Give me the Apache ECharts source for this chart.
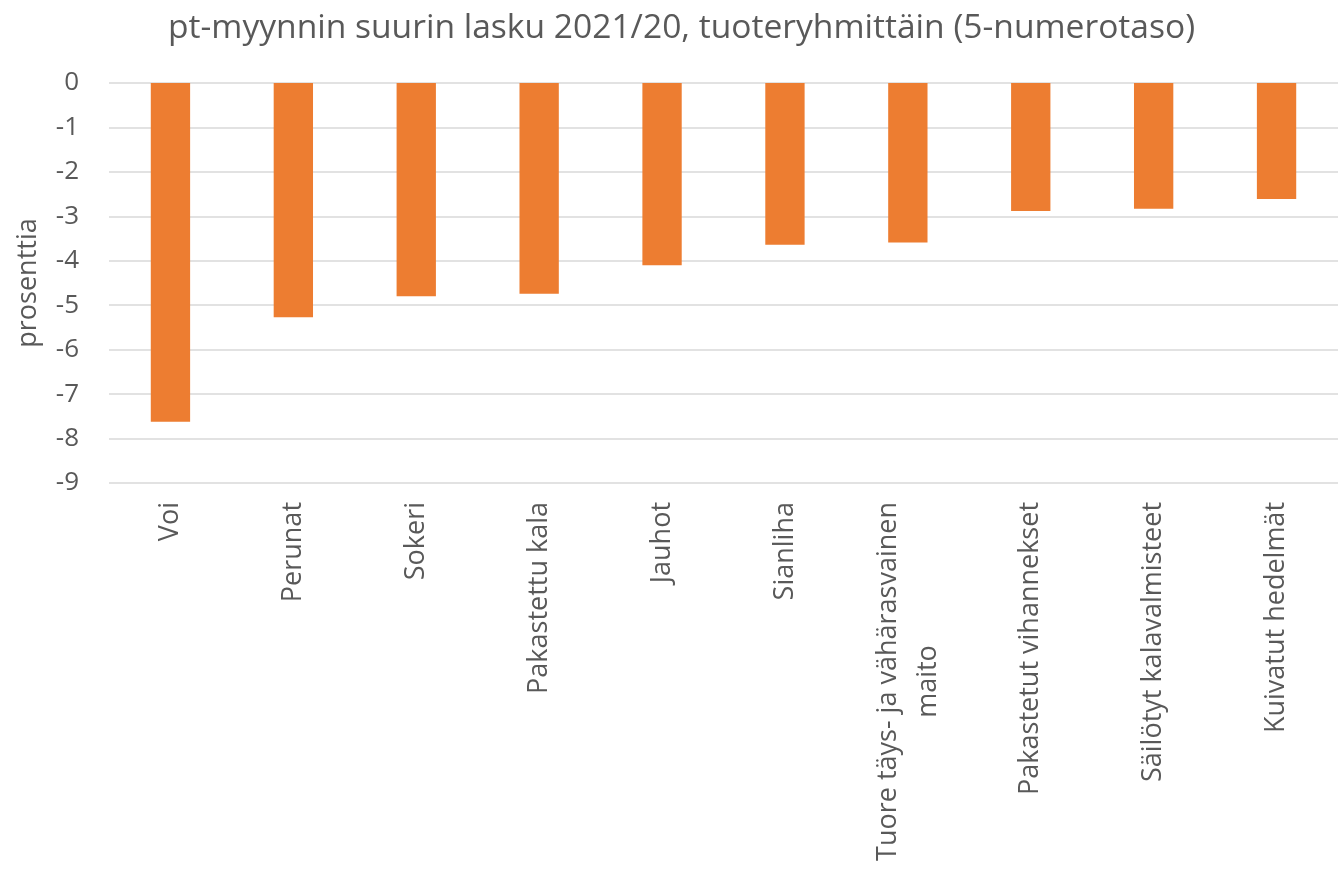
<!DOCTYPE html>
<html><head><meta charset="utf-8">
<script src="https://cdn.jsdelivr.net/npm/echarts@6/dist/echarts.min.js"></script>
<style>html,body{margin:0;padding:0;background:#fff}#c{width:1338px;height:876px}</style>
</head><body><div id="c"></div>
<script>
const categories = ["Voi","Perunat","Sokeri","Pakastettu kala","Jauhot","Sianliha","Tuore täys- ja vähärasvainen\nmaito","Pakastetut vihannekset","Säilötyt kalavalmisteet","Kuivatut hedelmät"];
const values = [-7.62,-5.27,-4.80,-4.74,-4.10,-3.64,-3.59,-2.88,-2.83,-2.61];
const titleText = "pt-myynnin suurin lasku 2021/20, tuoteryhmittäin (5-numerotaso)";
const yName = "prosenttia";
const font = "Open Sans";
const labelSize = 27;
const ctx = document.createElement('canvas').getContext('2d');
ctx.font = labelSize + 'px "' + font + '"';
function fmt(v){
  const lines = v.split('\n');
  if (lines.length === 1) return '{c|' + v + '}';
  const w = Math.round(Math.max(...lines.map(s => ctx.measureText(s).width)));
  return lines.map(s => '{w' + w + '|' + s + '}').join('\n');
}
const rich = {c:{fontFamily:font,fontSize:labelSize,color:'#595959',lineHeight:40}};
categories.forEach(v => {
  const lines = v.split('\n');
  if (lines.length > 1) {
    const w = Math.round(Math.max(...lines.map(s => ctx.measureText(s).width)));
    rich['w' + w] = {fontFamily:font,fontSize:labelSize,color:'#595959',lineHeight:40,width:w,align:'center'};
  }
});
const chart = echarts.init(document.getElementById('c'));
chart.setOption({
  animation:false,
  title:{text:titleText,left:163,top:6,textStyle:{fontFamily:font,fontSize:33.6,fontWeight:'normal',color:'#595959'}},
  grid:{left:109,right:0,top:83,bottom:393,containLabel:false,outerBoundsMode:'none'},
  xAxis:{type:'category',data:categories,position:'bottom',
    axisLine:{show:false,onZero:false},axisTick:{show:false},
    axisLabel:{rotate:90,interval:0,margin:19,formatter:fmt,rich:rich}},
  yAxis:{type:'value',min:-9,max:0,interval:1,name:yName,nameLocation:'middle',nameGap:67,
    nameTextStyle:{fontFamily:font,fontSize:27,color:'#595959'},
    axisLabel:{fontFamily:font,fontSize:26,color:'#595959',margin:30},
    axisLine:{show:false},axisTick:{show:false},
    splitLine:{lineStyle:{color:'#D9D9D9',width:1.5}}},
  series:[{type:'bar',data:values,barWidth:'32%',itemStyle:{color:'#ED7D31'}}]
});
</script></body></html>
